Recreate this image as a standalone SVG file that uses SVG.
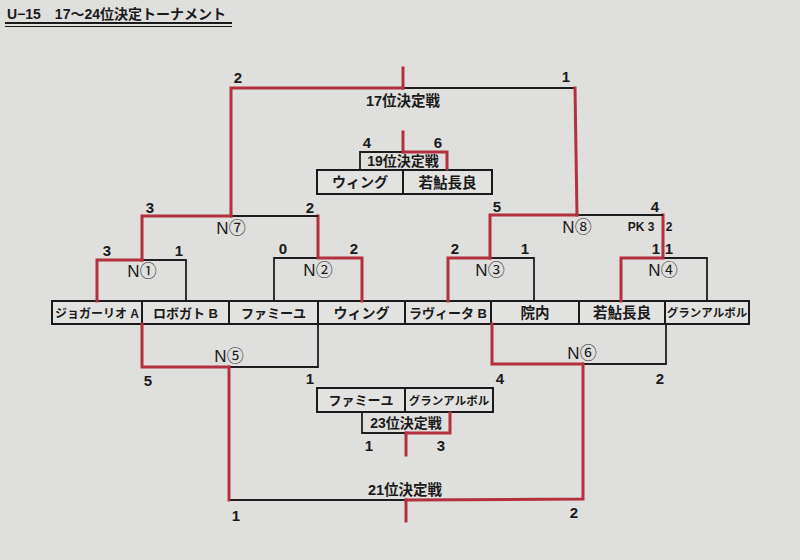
<svg xmlns="http://www.w3.org/2000/svg" width="800" height="560" viewBox="0 0 800 560">
<style>
.t{font-family:"Liberation Sans","Noto Sans CJK JP",sans-serif;font-weight:bold;fill:#1a1a1a;text-anchor:middle}
.team{font-size:13px}
.sc{font-size:15px}
.nl{font-size:17px;font-weight:normal}
.lbl{font-size:14.5px;font-weight:bold}
.k{stroke:#1e1e1e;stroke-width:1.8;fill:none}
.r{stroke:#b3303f;stroke-width:3;fill:none;stroke-linecap:square}
.cell{fill:#e2e2e0;stroke:#1a1a1a;stroke-width:2}
</style>
<rect width="800" height="560" fill="#dfdfdd"/>
<g id="title">
<text x="7" y="19" class="t" style="font-size:14px;text-anchor:start">U−15　17～24位決定トーナメント</text>
<line x1="5" y1="23" x2="232" y2="23" stroke="#1a1a1a" stroke-width="2"/>
<line x1="5" y1="26.5" x2="232" y2="26.5" stroke="#1a1a1a" stroke-width="1"/>
</g>
<g id="teams">
<g id="team1"><rect class="cell" x="52" y="301" width="90" height="23"/><text class="t team" x="97" y="317.5" style="font-size:12px">ジョガーリオ A</text></g>
<g id="team2"><rect class="cell" x="142" y="301" width="87" height="23"/><text class="t team" x="185.5" y="317.5">ロボガト B</text></g>
<g id="team3"><rect class="cell" x="229" y="301" width="89" height="23"/><text class="t team" x="273.5" y="317.5">ファミーユ</text></g>
<g id="team4"><rect class="cell" x="318" y="301" width="87" height="23"/><text class="t team" x="361.5" y="317.5" style="font-size:14px">ウィング</text></g>
<g id="team5"><rect class="cell" x="405" y="301" width="86" height="23"/><text class="t team" x="448" y="317.5">ラヴィータ B</text></g>
<g id="team6"><rect class="cell" x="491" y="301" width="88" height="23"/><text class="t team" x="535" y="318" style="font-size:14.5px">院内</text></g>
<g id="team7"><rect class="cell" x="579" y="301" width="86" height="23"/><text class="t team" x="622" y="318" style="font-size:14.5px">若鮎長良</text></g>
<g id="team8"><rect class="cell" x="665" y="301" width="84" height="23"/><text class="t team" x="707" y="317" style="font-size:11.5px">グランアルボル</text></g>
</g>
<g id="connectors">
<polyline class="k" points="142,260 186,260 186,301"/>
<polyline class="r" points="97,301 97,260 142,260"/>
<polyline class="k" points="318,258 274,258 274,301"/>
<polyline class="r" points="362,301 362,258 318,258 318,216"/>
<polyline class="k" points="231,216 318,216"/>
<polyline class="r" points="142,260 142,216 231,216"/>
<polyline class="k" points="490,258 534,258 534,301"/>
<polyline class="r" points="448,301 448,258 490,258"/>
<polyline class="k" points="663,258 707,258 707,301"/>
<polyline class="r" points="621,301 621,258 663,258 663,215"/>
<polyline class="k" points="577,215 663,215"/>
<polyline class="r" points="490,258 490,215 577,215"/>
<polyline class="k" points="403,88 575,88"/>
<polyline class="r" points="231,216 231,88 403,88"/>
<line class="r" x1="403" y1="68" x2="403" y2="88"/>
<line class="r" x1="575" y1="88" x2="577" y2="215"/>
<polyline class="k" points="229,367 318,367 318,324"/>
<polyline class="r" points="142,324 142,367 229,367"/>
<polyline class="k" points="582,364 666,364 666,324"/>
<polyline class="r" points="492,324 492,364 582,364"/>
<polyline class="k" points="229,500 406,500"/>
<line class="r" x1="229" y1="367" x2="229" y2="500"/>
<polyline class="r" points="406,500 583,499 583,364"/>
<line class="r" x1="406" y1="500" x2="406" y2="521"/>
<line class="r" x1="403" y1="132" x2="403" y2="152"/>
<line class="r" x1="406" y1="433" x2="406" y2="455"/>
</g>
<g id="N1"><text class="t nl" x="142" y="277">N①</text><text class="t sc" x="107" y="256">3</text><text class="t sc" x="179" y="256">1</text></g>
<g id="N2"><text class="t nl" x="318" y="276">N②</text><text class="t sc" x="283" y="254">0</text><text class="t sc" x="354" y="254">2</text></g>
<g id="N3"><text class="t nl" x="490" y="276">N③</text><text class="t sc" x="455" y="254">2</text><text class="t sc" x="525" y="254">1</text></g>
<g id="N4"><text class="t nl" x="663" y="276">N④</text><text class="t sc" x="656" y="254">1</text><text class="t sc" x="669" y="254">1</text><text class="t" x="641" y="231" style="font-size:12px">PK  3</text><text class="t" x="669" y="231" style="font-size:12px">2</text></g>
<g id="N7"><text class="t nl" x="231" y="234">N⑦</text><text class="t sc" x="150" y="213">3</text><text class="t sc" x="310" y="213">2</text></g>
<g id="N8"><text class="t nl" x="577" y="233">N⑧</text><text class="t sc" x="497" y="212">5</text><text class="t sc" x="655" y="212">4</text></g>
<g id="N5"><text class="t nl" x="229" y="362">N⑤</text><text class="t sc" x="148" y="386">5</text><text class="t sc" x="310" y="384">1</text></g>
<g id="N6"><text class="t nl" x="582" y="359">N⑥</text><text class="t sc" x="500" y="384">4</text><text class="t sc" x="660" y="384">2</text></g>
<g id="final17"><text class="t lbl" x="403" y="106">17位決定戦</text><text class="t sc" x="238" y="83">2</text><text class="t sc" x="566" y="82">1</text></g>
<g id="final19">
<rect class="cell" x="317" y="170" width="86" height="24"/><rect class="cell" x="403" y="170" width="89" height="24"/>
<text class="t team" x="360" y="187" style="font-size:14px">ウィング</text><text class="t team" x="447.5" y="187.5" style="font-size:14.5px">若鮎長良</text>
<polyline class="k" points="360,170 360,152 403,152"/>
<polyline class="r" points="403,152 447,152 447,169"/>
<text class="t lbl" x="403" y="166" style="font-size:14px">19位決定戦</text>
<text class="t sc" x="367" y="148">4</text><text class="t sc" x="438" y="148">6</text>
</g>
<g id="final23">
<rect class="cell" x="317" y="388" width="88" height="24"/><rect class="cell" x="405" y="388" width="88" height="24"/>
<text class="t team" x="361" y="405" style="font-size:13px">ファミーユ</text><text class="t team" x="449" y="405" style="font-size:11.5px">グランアルボル</text>
<polyline class="k" points="362,412 362,433 406,433"/>
<polyline class="r" points="406,433 450,433 450,413"/>
<text class="t lbl" x="406" y="428" style="font-size:14px">23位決定戦</text>
<text class="t sc" x="369" y="451">1</text><text class="t sc" x="441" y="451">3</text>
</g>
<g id="final21"><text class="t lbl" x="405" y="495">21位決定戦</text><text class="t sc" x="236" y="521">1</text><text class="t sc" x="574" y="518">2</text></g>
</svg>
